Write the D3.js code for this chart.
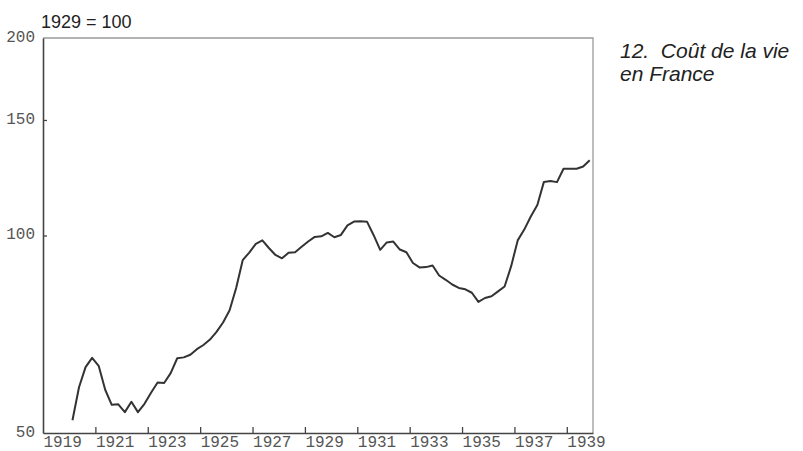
<!DOCTYPE html>
<html>
<head>
<meta charset="utf-8">
<script src="https://cdn.jsdelivr.net/npm/d3@7"></script>
<style>
  body { margin: 0; background: #fff; }
</style>
</head>
<body>
<div id="chart"></div>
<script>
// quarterly cost of living index, 1929 = 100
var years = [1920, 1921, 1922, 1923, 1924, 1925, 1926, 1927, 1928, 1929,
  1930, 1931, 1932, 1933, 1934, 1935, 1936, 1937, 1938, 1939];
var costIndex = [
  [52.3, 58.7, 63.0, 65.1],
  [63.3, 58.2, 55.2, 55.3],
  [53.8, 55.8, 53.8, 55.4],
  [57.6, 59.7, 59.6, 61.7],
  [65.0, 65.2, 65.8, 67.1],
  [68.1, 69.4, 71.3, 73.7],
  [76.9, 83.2, 91.7, 94.2],
  [97.1, 98.3, 95.7, 93.4],
  [92.3, 94.1, 94.3, 96.1],
  [97.9, 99.5, 99.7, 100.9],
  [99.4, 100.2, 103.6, 105.0],
  [105.1, 104.9, 100.1, 95.1],
  [97.6, 97.9, 95.2, 94.3],
  [90.8, 89.4, 89.5, 90.0],
  [86.9, 85.6, 84.2, 83.2],
  [82.8, 81.8, 79.2, 80.3],
  [80.8, 82.2, 83.6, 89.8],
  [98.3, 102.1, 106.9, 111.3],
  [120.7, 121.1, 120.6, 126.4],
  [126.4, 126.4, 127.4, 130.2]
];
var xTicks = [1919, 1921, 1923, 1925, 1927, 1929, 1931, 1933, 1935, 1937, 1939];
var yTicks = [50, 100, 150, 200];

var width = 803, height = 451;
var margin = {top: 38, right: 210, bottom: 18, left: 43};
var w = width - margin.left - margin.right,
  h = height - margin.top - margin.bottom;

var data = [];
years.forEach(function (yr, i) {
  costIndex[i].forEach(function (v, q) {
    data.push({t: yr + (q + 0.5) / 4, v: v});
  });
});

var svg = d3.select("#chart")
  .append("svg")
  .attr("width", width)
  .attr("height", height)
  .append("g")
  .attr("transform", "translate(" + margin.left + "," + margin.top + ")");

var x = d3.scaleLinear().domain([1919, 1940]).range([0, w]);
var y = d3.scaleLog().domain([50, 200]).range([h, 0]);

// light frame top and right
svg.append("path")
  .attr("d", "M0,0H" + w + "V" + h)
  .attr("fill", "none")
  .attr("stroke", "#9a9a9a")
  .attr("stroke-width", 1.3);

var xAxis = svg.append("g")
  .attr("transform", "translate(0," + h + ")")
  .call(d3.axisBottom(x)
    .tickValues(xTicks)
    .tickFormat(d3.format("d"))
    .tickSizeInner(-6)
    .tickSizeOuter(0)
    .tickPadding(3));
xAxis.selectAll("text")
  .attr("text-anchor", "start")
  .style("font-family", "Liberation Mono, DejaVu Sans Mono, monospace")
  .style("font-size", "16px")
  .attr("fill", "#555");

var yAxis = svg.append("g")
  .call(d3.axisLeft(y)
    .tickValues(yTicks)
    .tickFormat(d3.format("d"))
    .tickSizeInner(-4)
    .tickSizeOuter(0)
    .tickPadding(8));
yAxis.selectAll("text")
  .attr("dy", "0.2em")
  .style("font-family", "Liberation Mono, DejaVu Sans Mono, monospace")
  .style("font-size", "16px")
  .attr("fill", "#555");

svg.selectAll(".domain").attr("stroke", "#444").attr("stroke-width", 1.6);
svg.selectAll(".tick line").attr("stroke", "#444").attr("stroke-width", 1.3);
// hide the corner ticks
yAxis.selectAll(".tick line").filter(function (d) { return d == 50 || d == 200; }).remove();
xAxis.selectAll(".tick line").filter(function (d) { return d == 1919; }).remove();

var line = d3.line()
  .x(function (d) { return x(d.t); })
  .y(function (d) { return y(d.v); });

svg.append("path")
  .datum(data)
  .attr("fill", "none")
  .attr("stroke", "#333")
  .attr("stroke-width", 2)
  .attr("stroke-linejoin", "round")
  .attr("d", line);

svg.append("text")
  .attr("x", -2)
  .attr("y", -10)
  .style("font-family", "Liberation Sans, Arial, sans-serif")
  .style("font-size", "18px")
  .attr("fill", "#222")
  .text("1929 = 100");

var title = svg.append("text")
  .style("font-family", "Liberation Sans, Arial, sans-serif")
  .style("font-size", "21px")
  .style("font-style", "italic")
  .attr("fill", "#222");
title.append("tspan")
  .attr("x", w + 27)
  .attr("y", 20)
  .attr("xml:space", "preserve")
  .text("12.  Coût de la vie");
title.append("tspan")
  .attr("x", w + 27)
  .attr("y", 43)
  .text("en France");
</script>
</body>
</html>
